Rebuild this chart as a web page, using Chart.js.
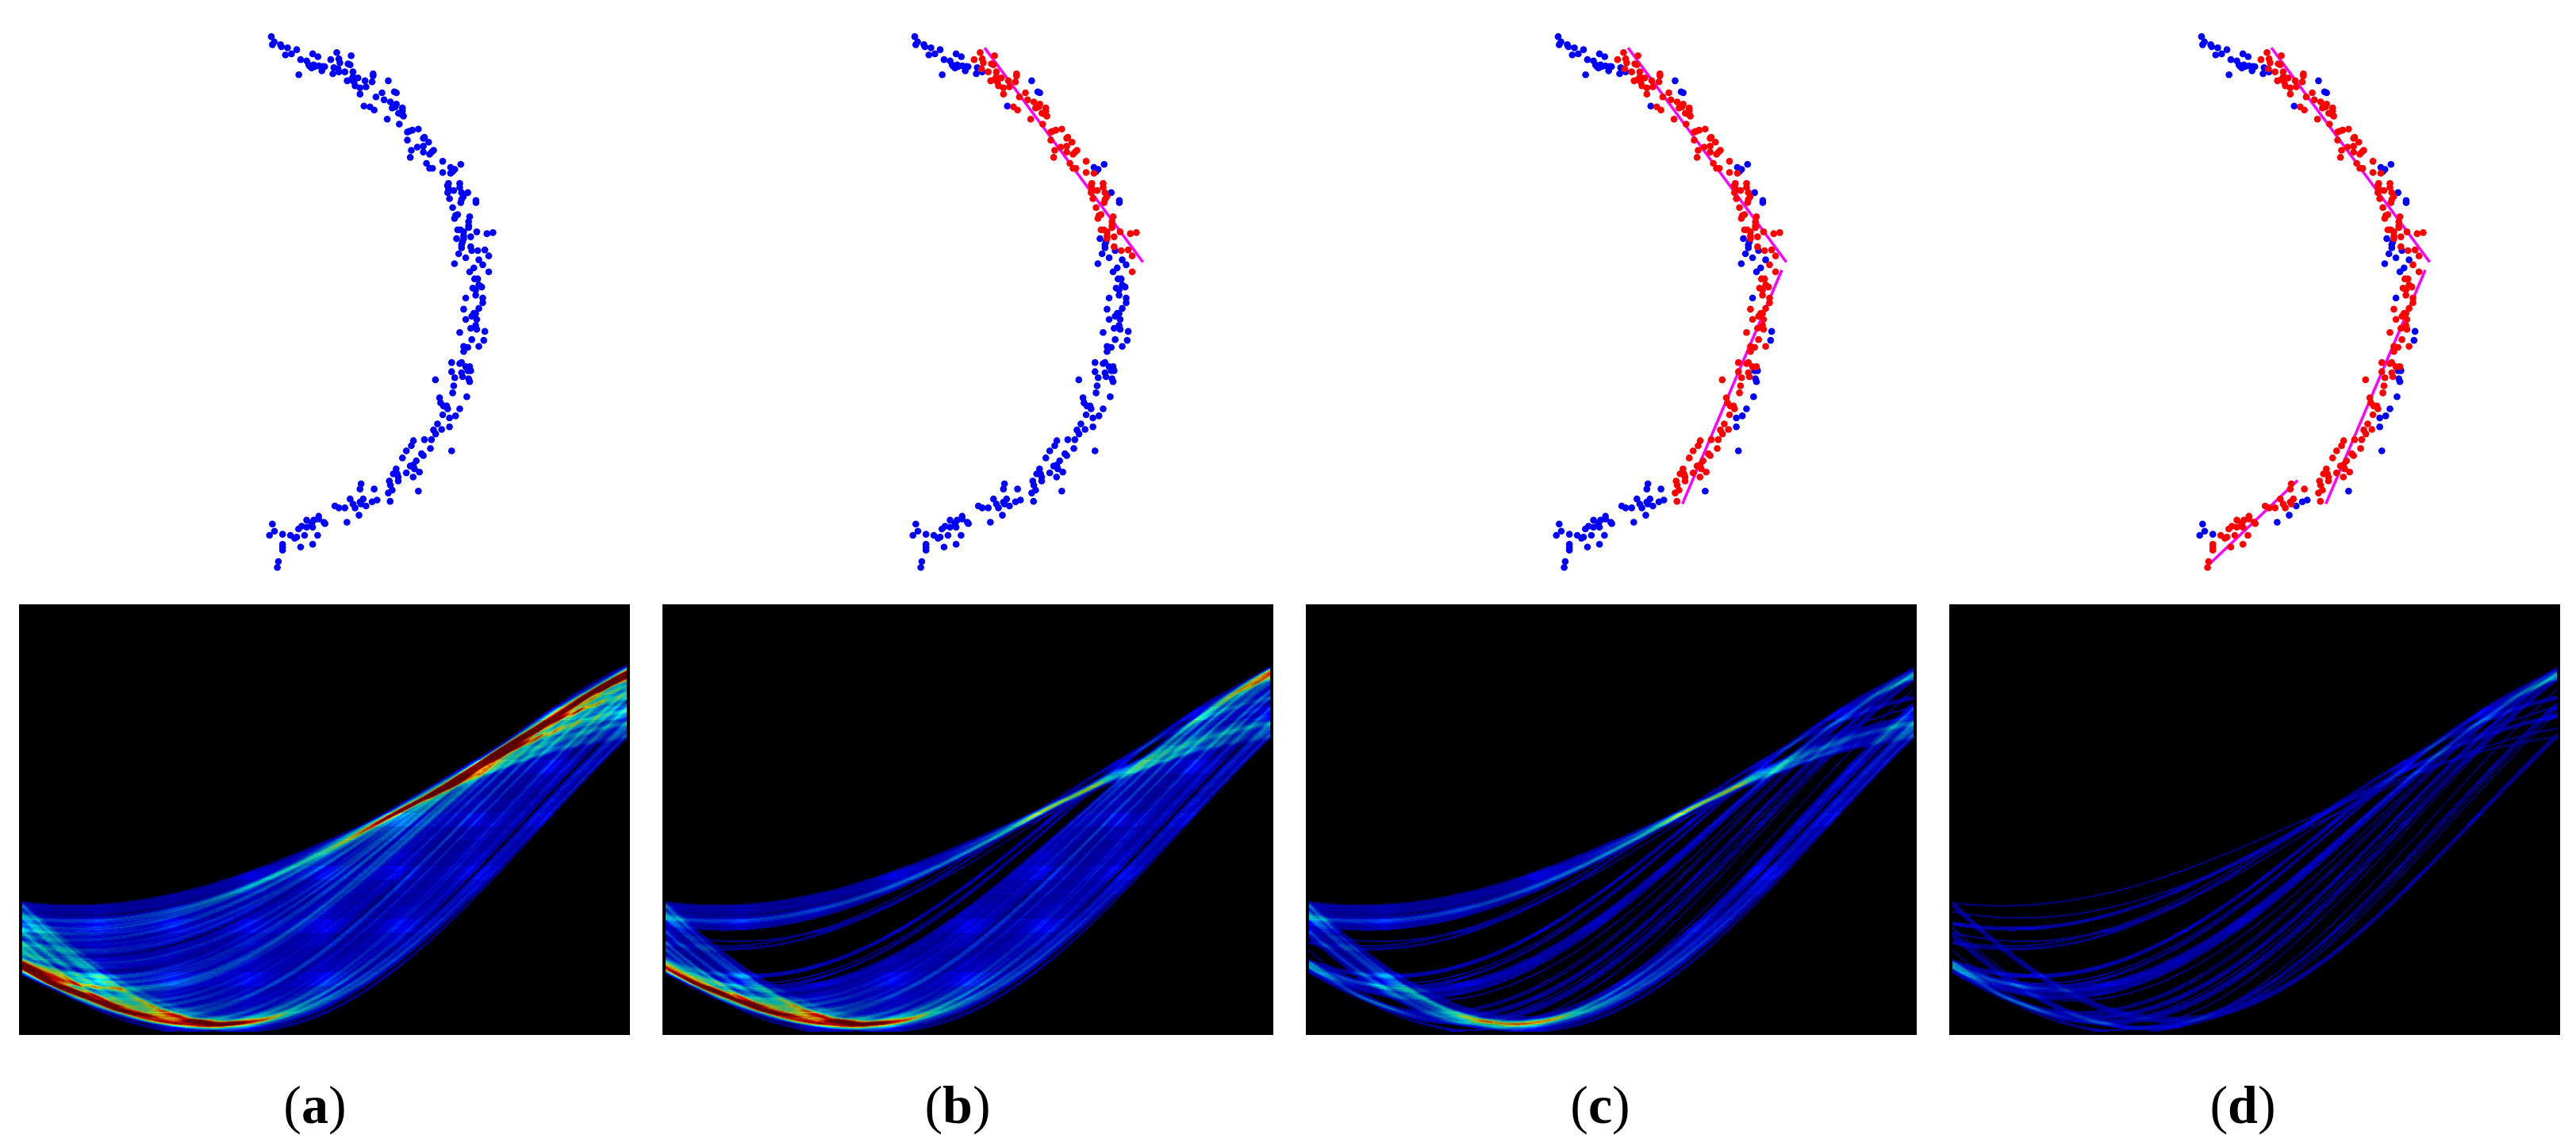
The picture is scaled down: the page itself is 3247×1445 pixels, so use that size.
<!DOCTYPE html>
<html><head><meta charset="utf-8">
<script src="https://cdn.jsdelivr.net/npm/chart.js@4"></script>
<style>
html,body{margin:0;padding:0;background:#fff;width:3247px;height:1445px;overflow:hidden}
canvas{position:absolute;display:block}
.h{background:#000}
.lab{position:absolute;top:1351px;width:200px;margin-left:-100px;text-align:center;font:68px "Liberation Serif",serif;color:#000;line-height:84px}
.lab b{font-weight:700}
</style></head><body>
<script>
// Points, [x, y] in thirds of a pixel.
const keptPoints=[[124,67],[229,213],[363,186],[359,209],[382,202],[571,236],[594,278],[602,282],[478,333],[809,567],[825,575],[817,583],[848,556],[875,664],[906,694],[906,702],[832,840],[855,852],[851,863],[851,875],[890,886],[840,898],[867,913],[917,921],[824,936],[898,952],[882,967],[867,1067],[940,1195],[936,1229],[875,1345],[886,1345],[878,1376],[882,1387],[871,1445],[844,1491],[828,1518],[805,1526],[805,1560],[813,1652],[686,1806],[528,1840],[509,1847],[486,1863],[459,1898],[413,1925],[128,1932],[136,1959],[117,1975],[167,1971]];
const fitFourPoints=[[135,87],[128,98],[159,98],[163,106],[186,110],[221,117],[178,137],[201,133],[282,133],[302,144],[236,155],[259,160],[267,175],[278,187],[271,180],[290,182],[286,175],[305,179],[321,181],[317,198],[328,182]];
const fitOnePoints=[[374,128],[382,152],[386,167],[351,155],[429,140],[417,171],[425,175],[379,190],[405,202],[436,202],[436,221],[455,225],[414,236],[428,232],[440,240],[444,255],[463,263],[486,259],[482,236],[463,287],[513,209],[513,217],[509,240],[524,298],[547,282],[555,309],[579,317],[602,325],[598,336],[586,340],[625,340],[625,352],[610,360],[621,364],[629,371],[501,336],[517,348],[567,383],[613,402],[644,432],[651,429],[663,425],[686,421],[644,463],[709,452],[705,456],[725,471],[682,490],[705,486],[659,502],[705,509],[729,517],[737,509],[744,502],[655,529],[717,552],[729,571],[740,571],[779,544],[779,587],[809,590],[801,629],[844,629],[797,637],[844,644],[801,648],[821,656],[798,664],[851,664],[858,679],[805,687],[851,690],[848,702],[817,721],[836,748],[828,752],[824,763],[882,756],[878,775],[878,790],[878,798],[836,806],[847,806],[859,814],[859,829],[859,840],[886,833],[909,814],[948,821],[971,817],[886,871],[913,886],[940,883],[955,906],[955,967]];
const fitTwoPoints=[[932,940],[901,994],[913,994],[917,1017],[928,1025],[894,1029],[905,1036],[905,1056],[932,1067],[932,1085],[859,1110],[917,1107],[898,1126],[905,1126],[890,1137],[909,1149],[867,1149],[905,1172],[886,1183],[909,1187],[844,1199],[890,1226],[917,1252],[859,1252],[875,1256],[859,1272],[813,1314],[844,1318],[851,1314],[867,1330],[882,1330],[851,1353],[813,1349],[855,1368],[825,1372],[751,1380],[821,1403],[817,1430],[767,1449],[771,1468],[782,1480],[794,1480],[798,1491],[779,1514],[759,1549],[744,1572],[775,1570],[752,1587],[736,1609],[709,1609],[667,1613],[659,1632],[732,1643],[640,1652],[698,1663],[705,1670],[625,1679],[678,1690],[667,1706],[655,1710],[671,1721],[690,1733],[640,1736],[601,1721],[590,1740],[605,1740],[609,1752],[666,1752],[609,1767],[575,1767],[579,1783],[586,1802],[571,1813],[578,1845]];
const fitThreePoints=[[467,1778],[463,1798],[517,1798],[425,1836],[436,1855],[475,1836],[463,1848],[467,1855],[444,1870],[367,1863],[382,1870],[405,1870],[305,1902],[305,1913],[286,1917],[259,1917],[325,1925],[329,1930],[278,1930],[240,1940],[259,1944],[282,1944],[228,1951],[197,1975],[213,1986],[221,1982],[251,1975],[301,1975],[167,2009],[167,2021],[167,2032],[236,2020],[282,2009],[151,2075],[147,2098]];
const lineOne=[[391,110],[996,930]];
const lineTwo=[[979,960],[599,1855]];
const lineThree=[[151,2088],[491,1765]];
const panelLabels=["a","b","c","d"];

// Which point lists are red, which fitted lines are shown, and which lists feed the lower map, per panel.
const redLists=[[],[fitOnePoints],[fitOnePoints,fitTwoPoints],[fitOnePoints,fitTwoPoints,fitThreePoints]];
const shownLines=[[],[lineOne],[lineOne,lineTwo],[lineOne,lineTwo,lineThree]];
const allLists=[keptPoints,fitFourPoints,fitOnePoints,fitTwoPoints,fitThreePoints];
const mapLists=[allLists,[keptPoints,fitFourPoints,fitTwoPoints,fitThreePoints],[keptPoints,fitFourPoints,fitThreePoints],[keptPoints]];

const PANEL_STEP=811, HEAT_LEFT=24, HEAT_TOP=762, COLS=770, ROWS=543;
const ORIGIN_X=15, ORIGIN_Y=-43, RHO_SCALE=0.325, SHADES=48;
Chart.defaults.animation=false;

function jet(v){
  const c=x=>Math.round(255*Math.max(0,Math.min(1,x)));
  return `rgb(${c(1.5-Math.abs(4*v-3))},${c(1.5-Math.abs(4*v-2))},${c(1.5-Math.abs(4*v-1))})`;
}
const voteLevel=s=>Math.max(.05,s<=7?.064*s:Math.min(1,.45+(s-7)*.11));
function makeCanvas(cls,l,t,w,h){
  const c=document.createElement('canvas');c.width=w;c.height=h;c.className=cls;
  c.style.left=l+'px';c.style.top=t+'px';c.style.width=w+'px';c.style.height=h+'px';
  document.body.appendChild(c);return c;
}
const toXY=p=>({x:p[0],y:p[1]});
const hiddenAxis=(min,max,reverse)=>({type:'linear',display:false,min,max,reverse:!!reverse});
const baseOpts=(x,y)=>({responsive:false,animation:false,events:[],layout:{padding:0},
  plugins:{legend:{display:false},tooltip:{enabled:false},title:{display:false}},scales:{x,y}});

// Top row: the point clouds.
panelLabels.forEach((name,k)=>{
  const red=redLists[k], blue=allLists.filter(l=>!red.includes(l));
  const ds=[];
  ds.push({label:'fitted',order:1,data:red.flat().map(toXY),backgroundColor:'#ff0000',borderWidth:0,pointRadius:4.3,showLine:false});
  shownLines[k].forEach(l=>ds.push({label:'line',order:2,type:'line',data:l.map(toXY),borderColor:'#ff00ff',borderWidth:3.5,pointRadius:0,fill:false,tension:0}));
  ds.push({label:'remaining',order:3,data:blue.flat().map(toXY),backgroundColor:'#0000ff',borderWidth:0,pointRadius:4.3,showLine:false});
  new Chart(makeCanvas('t',PANEL_STEP*k,0,PANEL_STEP,HEAT_TOP),{type:'scatter',data:{datasets:ds},
    options:baseOpts(hiddenAxis(-900,(PANEL_STEP-300)*3),hiddenAxis(-60,(HEAT_TOP-20)*3,true))});
});

// Bottom row: vote table built from each panel's point lists, then averaged over a small window.
function voteTable(lists){
  const t=new Int32Array(COLS*ROWS);
  lists.flat().forEach(p=>{
    const x=300+p[0]/3-ORIGIN_X, y=20+p[1]/3-ORIGIN_Y;
    for(let c=0;c<COLS;c++){
      const a=(c+.5)/COLS*Math.PI;
      const r=Math.round((ROWS-1)/2+RHO_SCALE*(x*Math.cos(a)+y*Math.sin(a)));
      if(r>=0&&r<ROWS)t[r*COLS+c]++;
      if(r+1>=0&&r+1<ROWS)t[(r+1)*COLS+c]++;
    }
  });
  return t;
}
function windowMean(t,r,c){
  let sum=0,n=0;
  for(let i=-2;i<=2;i++)for(let j=-1;j<=1;j++){
    const a=r+i,b=c+j;
    if(a>=0&&a<ROWS&&b>=0&&b<COLS){sum+=t[a*COLS+b];n++;}
  }
  return sum/n;
}
panelLabels.forEach((name,k)=>{
  const t=voteTable(mapLists[k]), levels={};
  for(let r=0;r<ROWS;r++)for(let c=0;c<COLS;c++){
    const raw=t[r*COLS+c], s=windowMean(t,r,c);
    if(raw>0||s>=.7){
      const q=Math.round(voteLevel(s)*SHADES);
      (levels[q]=levels[q]||[]).push({x:c+.5,y:r+.5});
    }
  }
  const ds=Object.keys(levels).map(q=>({label:'shade '+q,data:levels[q],parsing:false,normalized:true,
    backgroundColor:jet(+q/SHADES),borderWidth:0,pointStyle:'rect',pointRadius:Math.SQRT1_2,showLine:false}));
  new Chart(makeCanvas('h',HEAT_LEFT+PANEL_STEP*k,HEAT_TOP,COLS,ROWS),{type:'scatter',data:{datasets:ds},
    options:baseOpts(hiddenAxis(0,COLS),hiddenAxis(0,ROWS,true))});
  const d=document.createElement('div');d.className='lab';d.style.left=(397+810*k)+'px';
  d.innerHTML='(<b>'+name+'</b>)';document.body.appendChild(d);
});
</script>
</body></html>
